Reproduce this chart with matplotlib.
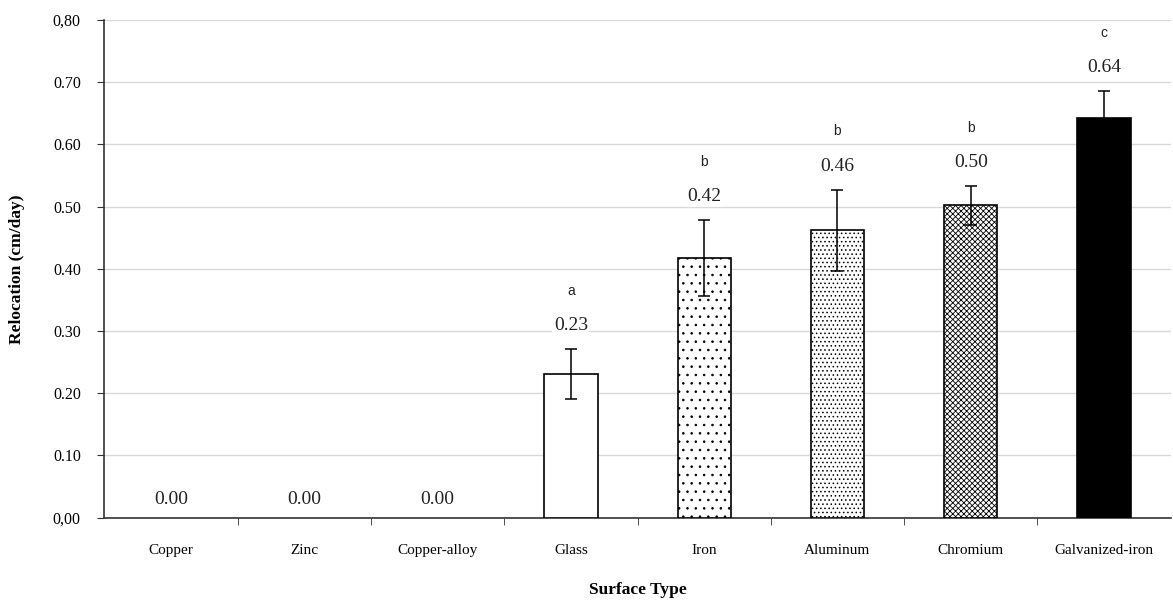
import numpy as np
import matplotlib.pyplot as plt

# Relocation speed per surface
surfaces = ['Copper', 'Zinc', 'Copper-alloy', 'Glass', 'Iron', 'Aluminum', 'Chromium', 'Galvanized-iron']
relocation = [0.0, 0.0, 0.0, 0.231, 0.417, 0.462, 0.502, 0.643]
errors = [0.0, 0.0, 0.0, 0.040, 0.061, 0.065, 0.031, 0.042]
value_labels = ['0.00', '0.00', '0.00', '0.23', '0.42', '0.46', '0.50', '0.64']
groups = ['', '', '', 'a', 'b', 'b', 'b', 'c']
yticks = [0.0, 0.1, 0.2, 0.3, 0.4, 0.5, 0.6, 0.7, 0.8]
ytick_labels = ['0,00', '0.10', '0.20', '0.30', '0.40', '0.50', '0.60', '0.70', '0,80']

hatches = ['', '', '', '', '..', '....', 'xxxxxx', '']
faces = ['white'] * 7 + ['black']

plt.rcParams['hatch.linewidth'] = 0.6
serif = ['Liberation Serif', 'DejaVu Serif']

fig, ax = plt.subplots(figsize=(11.73, 6.02), dpi=100)
fig.subplots_adjust(left=0.089, right=0.998, top=0.967, bottom=0.14)

x = np.arange(len(surfaces))
for i in range(len(surfaces)):
    if relocation[i] == 0:
        continue
    ax.bar(x[i], relocation[i], width=0.4, color=faces[i], edgecolor='black',
           linewidth=1.2, hatch=hatches[i], zorder=3)
    ax.errorbar(x[i], relocation[i], yerr=errors[i], fmt='none', ecolor='black',
                elinewidth=1.1, capsize=4, capthick=1.1, zorder=4)

for i in range(len(surfaces)):
    top = relocation[i] + errors[i]
    off = 13 if relocation[i] == 0 else 17
    ax.annotate(value_labels[i], (x[i], top), xytext=(0, off), textcoords='offset points',
                ha='center', va='center', fontsize=14, family=serif, color='#222222',
                bbox=dict(facecolor='white', edgecolor='none', pad=1), zorder=5)
    if groups[i]:
        ax.annotate(groups[i], (x[i], top), xytext=(0, 42), textcoords='offset points',
                    ha='center', va='center', fontsize=10, family=['Liberation Sans'],
                    color='#222222', zorder=5)

ax.set_xlim(-0.5, len(surfaces) - 0.5)
ax.set_ylim(0, 0.8)
ax.set_yticks(yticks)
ax.set_yticklabels(ytick_labels, family=serif, fontsize=11.5)
ax.set_xticks(x)
ax.set_xticklabels(surfaces, family=serif, fontsize=11)
ax.set_xticks(np.arange(0.5, len(surfaces) - 0.5), minor=True)
ax.tick_params(axis='x', which='major', length=0, pad=19)
ax.tick_params(axis='x', which='minor', length=5, direction='out', color='#333333')
ax.tick_params(axis='y', length=5, direction='out', color='#333333', pad=12)

ax.yaxis.grid(True, color='#d9d9d9', linewidth=1.0, zorder=0)
ax.set_axisbelow(True)
for s in ['top', 'right']:
    ax.spines[s].set_visible(False)
ax.spines['left'].set_color('#333333')
ax.spines['bottom'].set_color('#333333')
ax.spines['left'].set_linewidth(1.2)
ax.spines['bottom'].set_linewidth(1.2)

ax.set_ylabel('Relocation (cm/day)', family=serif, fontsize=12.5, fontweight='bold', labelpad=20)
ax.set_xlabel('Surface Type', family=serif, fontsize=12.5, fontweight='bold', labelpad=18)

fig.savefig('out.png', dpi=100)
